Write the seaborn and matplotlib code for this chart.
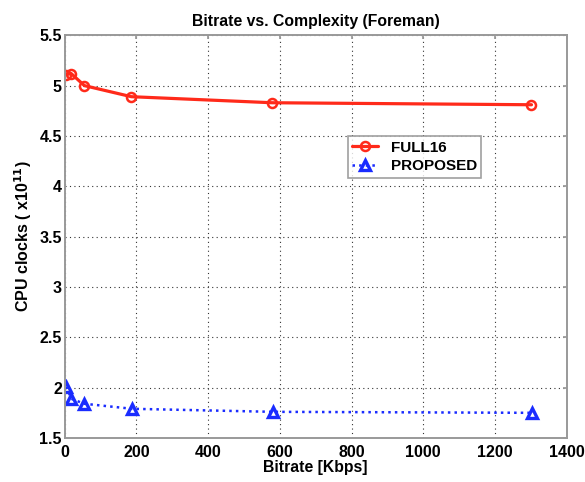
import matplotlib
matplotlib.use("Agg")
import matplotlib.pyplot as plt
import seaborn as sns
import pandas as pd

# Bitrate (Kbps) per QP setting and the measured CPU clocks (x1e11)
bitrate_full16 = [5, 18, 55, 186, 578, 1302]
clocks_full16 = [5.11, 5.12, 5.00, 4.89, 4.83, 4.81]

bitrate_proposed = [5, 18, 55, 188, 580, 1304]
clocks_proposed = [2.01, 1.89, 1.84, 1.79, 1.76, 1.75]

series_names = ["FULL16", "PROPOSED"]
x_ticks = [0, 200, 400, 600, 800, 1000, 1200, 1400]
y_ticks = [1.5, 2, 2.5, 3, 3.5, 4, 4.5, 5, 5.5]

df_full = pd.DataFrame({"Bitrate": bitrate_full16, "Clocks": clocks_full16})
df_prop = pd.DataFrame({"Bitrate": bitrate_proposed, "Clocks": clocks_proposed})

sns.set_theme(style="white")
plt.rcParams["font.family"] = ["Liberation Sans", "DejaVu Sans"]
plt.rcParams["font.weight"] = "bold"
plt.rcParams["text.color"] = "black"
plt.rcParams["axes.labelcolor"] = "black"
plt.rcParams["xtick.color"] = "black"
plt.rcParams["ytick.color"] = "black"

fig = plt.figure(figsize=(5.85, 4.82), dpi=100)
ax = fig.add_axes([0.1106, 0.0913, 0.858, 0.8355])

sns.lineplot(data=df_full, x="Bitrate", y="Clocks", ax=ax, color="#ff2a1a",
             linewidth=2.3, marker="o", markersize=6.5, markerfacecolor="none",
             markeredgecolor="#ff2a1a", markeredgewidth=1.8,
             label=series_names[0], sort=False)
sns.lineplot(data=df_prop, x="Bitrate", y="Clocks", ax=ax, color="#1a2cff",
             linewidth=1.8, linestyle=":", marker="^", markersize=7,
             markerfacecolor="none", markeredgecolor="#1a2cff",
             markeredgewidth=2.4, label=series_names[1], sort=False)

ax.set_xlim(0, 1400)
ax.set_ylim(1.5, 5.5)
ax.set_xticks(x_ticks)
ax.set_yticks(y_ticks)
ax.set_xticklabels([str(t) for t in x_ticks])
ax.set_yticklabels([("%g" % t) for t in y_ticks])

ax.grid(True, linestyle=(0, (1, 3)), color="#333333", linewidth=0.8)
ax.tick_params(axis="both", direction="in", length=3, color="#999999",
               labelcolor="black", labelsize=11.5, pad=2, top=True, right=True)
ax.tick_params(axis="x", pad=5)
for lab in ax.get_xticklabels() + ax.get_yticklabels():
    lab.set_fontweight("bold")
for spine in ax.spines.values():
    spine.set_color("#999999")
    spine.set_linewidth(1.4)

ax.set_title("Bitrate vs. Complexity (Foreman)", fontsize=11.3, fontweight="bold",
             pad=7, color="black")
ax.set_xlabel("Bitrate [Kbps]", fontsize=11.3, fontweight="bold", labelpad=0)
ax.set_ylabel(r"CPU clocks ( x10$^{\mathbf{11}}$)", fontsize=11.5, fontweight="bold",
              labelpad=4)

leg = ax.legend(loc="upper left", bbox_to_anchor=(0.564, 0.75), frameon=True,
                fancybox=False, fontsize=11, handlelength=1.7, borderpad=0.3,
                labelspacing=0.3, handletextpad=0.8, borderaxespad=0)
leg.get_frame().set_edgecolor("#888888")
leg.get_frame().set_linewidth(1.2)
for t in leg.get_texts():
    t.set_fontweight("bold")
    t.set_color("black")

fig.savefig("out.png", dpi=100, facecolor="white")
